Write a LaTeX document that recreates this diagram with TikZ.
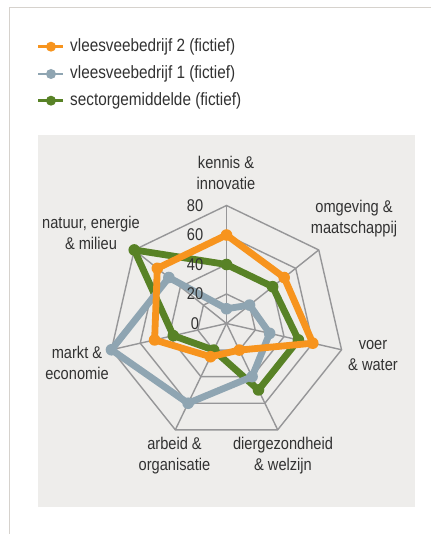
\documentclass[tikz,border=0pt]{standalone}
\usepackage{fontspec}
\setmainfont{Liberation Sans}[FakeStretch=0.86]
\usetikzlibrary{calc}
\definecolor{cOrange}{RGB}{247,148,30}
\definecolor{cBlue}{RGB}{143,165,178}
\definecolor{cGreen}{RGB}{88,130,38}
\definecolor{cGrid}{RGB}{150,150,152}
\definecolor{cPanel}{RGB}{238,237,235}
\definecolor{cFrame}{RGB}{214,210,205}
\definecolor{cText}{RGB}{50,50,50}
\tikzset{
  gridline/.style={draw=cGrid, line width=1.4pt, line join=miter},
  seriesline/.style={line width=6.8pt, line join=round},
  lbl/.style={font=\fontsize{17}{21}\selectfont, text=cText, align=center, inner sep=0pt},
  tick/.style={font=\fontsize{17}{21}\selectfont, text=cText, inner sep=0pt},
  legtext/.style={font=\fontsize{17.8}{20}\selectfont, text=cText, anchor=west, inner sep=0pt},
  legline/.style={line width=2.6pt},
}
\begin{document}
\begin{tikzpicture}[x=1pt,y=-1pt]
\useasboundingbox (0,0) rectangle (431,534);
\fill[white] (0,0) rectangle (431,534);
% frame
\coordinate (fa) at (9.5,534);
\coordinate (fb) at (9.5,7.5);
\coordinate (fc) at (431,7.5);
\draw[cFrame, line width=1.3pt] (fa) -- (fb) -- (fc);
% panel
\fill[cPanel] (38,135) rectangle (415,507);
% legend
\foreach \y/\c/\t/\n in {46.7/cOrange/{vleesveebedrijf 2 (fictief)}/a, 74/cBlue/{vleesveebedrijf 1 (fictief)}/b, 100.7/cGreen/{sectorgemiddelde (fictief)}/c}{
  \coordinate (l\n1) at (38,\y);
  \coordinate (l\n2) at (63,\y);
  \draw[legline, \c] (l\n1) -- (l\n2);
  \fill[\c] (51,\y) circle (5pt);
  \node[legtext] (lt\n) at (70,\y) {\t};
}
% radar geometry
\coordinate (C) at (226.5,323.5);
\def\unit{1.475}
\foreach \k in {0,...,6}{
  \foreach \r in {1,2,3,4}{
    \coordinate (r\r v\k) at ($(C)+({-90+\k*360/7}:{\r*20*\unit})$);
  }
}
\foreach \r in {1,2,3,4}{
  \draw[gridline] (r\r v0) -- (r\r v1) -- (r\r v2) -- (r\r v3) -- (r\r v4) -- (r\r v5) -- (r\r v6) -- cycle;
}
\foreach \k in {0,...,6}{
  \draw[gridline] (C) -- (r4v\k);
}
% series: green, blue, orange
\foreach \name/\col/\vals in {g/cGreen/{40,40,50,50,20,37,80}, b/cBlue/{10,20,30,40,60,80,50}, o/cOrange/{60,50,60,20,25,50,60}}{
  \foreach \v [count=\i from 0] in \vals{
    \coordinate (\name\i) at ($(C)+({-90+\i*360/7}:{\v*\unit})$);
  }
  \draw[seriesline, \col] (\name0) -- (\name1) -- (\name2) -- (\name3) -- (\name4) -- (\name5) -- (\name6) -- cycle;
  \foreach \i in {0,...,6}{
    \fill[\col] (\name\i) circle (5.8pt);
  }
}
% tick labels (on top)
\foreach \v [count=\i from 0] in {0,20,40,60,80}{
  \node[tick] (t\i) at (195,{323.5-\i*29.5}) {\v};
}
% axis labels
\node[lbl] (ax0) at (226,172.5) {kennis \&\\innovatie};
\node[lbl] (ax1) at (354,218.5) {omgeving \&\\maatschappij};
\node[lbl] (ax2) at (373,356) {voer\\\& water};
\node[lbl] (ax3) at (283,456) {diergezondheid\\\& welzijn};
\node[lbl] (ax4) at (174.5,456) {arbeid \&\\organisatie};
\node[lbl] (ax5) at (77,362.5) {markt \&\\economie};
\node[lbl] (ax6) at (91,232.5) {natuur, energie\\\& milieu};
\end{tikzpicture}
\end{document}
